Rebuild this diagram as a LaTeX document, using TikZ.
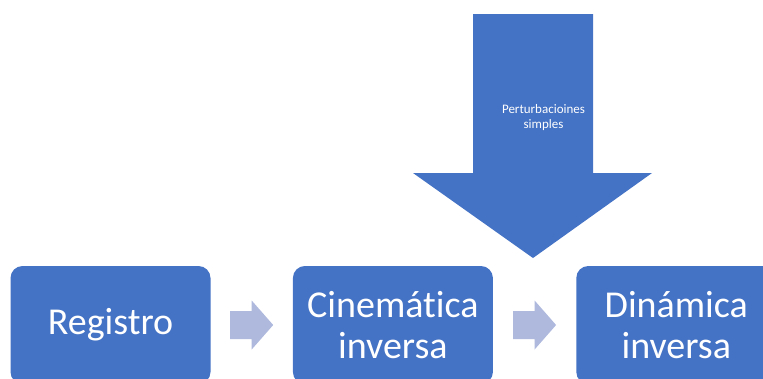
\documentclass[tikz,border=0pt]{standalone}
\usepackage{fontspec}
\setmainfont[Ligatures=NoCommon]{Carlito}
\usetikzlibrary{positioning}
\usetikzlibrary{calc}
\definecolor{boxblue}{HTML}{4472C4}
\definecolor{stepblue}{HTML}{AEB9DD}

\tikzset{
  stage/.style={fill=boxblue,rounded corners=12pt,minimum width=200pt,minimum height=118pt,inner sep=0pt,text=white,align=center,font=\fontsize{38}{41}\selectfont},
  flow arrow/.pic={\fill[stepblue] (-21.5,-14) -- (0,-14) -- (0,-24.5) -- (21.5,0) -- (0,24.5) -- (0,14) -- (-21.5,14) -- cycle;}
}

\begin{document}
\begin{tikzpicture}[x=1pt,y=-1pt]
  \useasboundingbox (0,0) rectangle (763,378);
  \clip (0,0) rectangle (763,378);
  %boxes
  \node[stage] (reg) at (110.5,325) {Registro};
  \node[stage,right=82pt of reg] (cin) {Cinemática\\inversa};
  \node[stage,right=83pt of cin] (din) {Dinámica\\inversa};
  %steps
  \pic at ($(reg.east)!0.5!(cin.west)$) {flow arrow};
  \pic at ($(cin.east)!0.5!(din.west)$) {flow arrow};
  %disturbance
  \fill[boxblue] (473,14) -- (593,14) -- (593,173) -- (652,173) -- (533,258) -- (413,173) -- (473,173) -- cycle;
  \node[text=white,align=center,font=\fontsize{13}{15}\selectfont] (pert) at (543.5,118) {Perturbacioines\\simples};
\end{tikzpicture}
\end{document}
